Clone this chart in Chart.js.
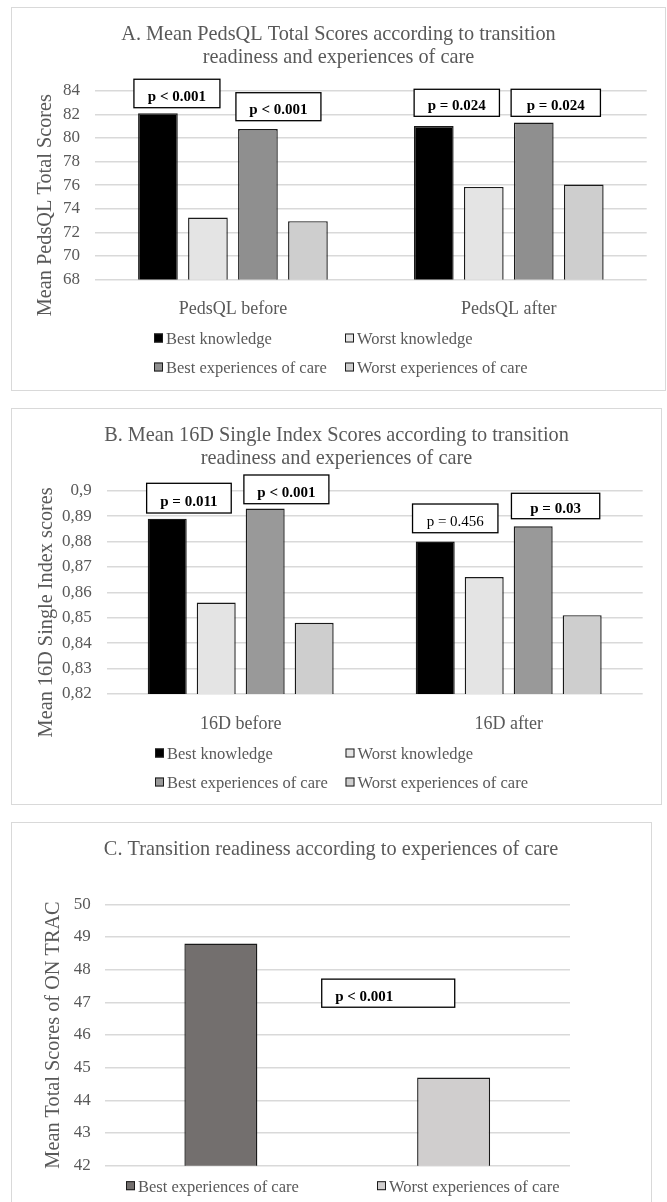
<!DOCTYPE html>
<html>
<head>
<meta charset="utf-8">
<script src="https://cdn.jsdelivr.net/npm/chart.js@4.4.1/dist/chart.umd.min.js"></script>
<style>
  html, body { margin: 0; padding: 0; background: #ffffff; width: 667px; height: 1202px; overflow: hidden; }
  .frame { position: absolute; box-sizing: border-box; border: 1.3px solid #d9d9d9; }
  canvas { position: absolute; }
</style>
</head>
<body>
<div class="frame" style="left:11px;top:7px;width:655px;height:384px"></div>
<canvas id="chartA" style="left:11px;top:7px" width="655" height="384"></canvas>

<div class="frame" style="left:11px;top:408px;width:651px;height:397px"></div>
<canvas id="chartB" style="left:11px;top:408px" width="651" height="397"></canvas>

<div class="frame" style="left:11px;top:822px;width:641px;height:400px"></div>
<canvas id="chartC" style="left:11px;top:822px" width="641" height="390"></canvas>

<script>
// ---- Panel A: PedsQL total scores ----
const groupLabels = ['Best knowledge', 'Worst knowledge', 'Best experiences of care', 'Worst experiences of care'];
const pedsCategories = ['PedsQL before', 'PedsQL after'];
const pedsBestKnowledge = [82.1, 81.0];
const pedsWorstKnowledge = [73.25, 75.85];
const pedsBestCare = [80.75, 81.3];
const pedsWorstCare = [72.95, 76.05];
const pedsTicks = [68, 70, 72, 74, 76, 78, 80, 82, 84];
const pedsPValues = ['p < 0.001', 'p < 0.001', 'p = 0.024', 'p = 0.024'];

// ---- Panel B: 16D single index scores ----
const sixteenCategories = ['16D before', '16D after'];
const sixteenBestKnowledge = [0.889, 0.880];
const sixteenWorstKnowledge = [0.856, 0.866];
const sixteenBestCare = [0.893, 0.886];
const sixteenWorstCare = [0.848, 0.851];
const sixteenTicks = [0.82, 0.83, 0.84, 0.85, 0.86, 0.87, 0.88, 0.89, 0.90];
const sixteenPValues = ['p = 0.011', 'p < 0.001', 'p = 0.456', 'p = 0.03'];

// ---- Panel C: ON TRAC total scores ----
const tracCategories = ['Best experiences of care', 'Worst experiences of care'];
const tracScores = [48.8, 44.7];
const tracTicks = [42, 43, 44, 45, 46, 47, 48, 49, 50];
const tracPValues = ['p < 0.001'];

const SERIF = "'Liberation Serif', 'Times New Roman', serif";
const INK = '#595959';
const GRID = '#d9d9d9';
Chart.defaults.font.family = SERIF;
Chart.defaults.color = INK;

const seriesFill = ['#000000', '#e4e4e4', '#8f8f8f', '#cecece'];
const seriesFillB = ['#000000', '#e4e4e4', '#999999', '#cecece'];
const tracFill = ['#736f6e', '#d0cece'];

// Draws titles, the rotated axis title, the legend grid and the p-value boxes.
const panelDecor = {
  id: 'panelDecor',
  afterDatasetsDraw(chart, args, o) {
    const ctx = chart.ctx;
    const ys = chart.scales.y;
    (o.boxes || []).forEach((b, i) => {
      const bar = chart.getDatasetMeta(b.ds).data[b.cat];
      const cx = bar.x + b.dx;
      const top = ys.getPixelForValue(b.top);
      const bottom = ys.getPixelForValue(b.bottom);
      const left = cx - b.w / 2;
      ctx.save();
      ctx.fillStyle = '#ffffff';
      ctx.fillRect(left, top, b.w, bottom - top);
      ctx.strokeStyle = '#000000';
      ctx.lineWidth = 1.3;
      ctx.strokeRect(left, top, b.w, bottom - top);
      ctx.font = (b.bold ? 'bold ' : '') + '15px ' + SERIF;
      ctx.fillStyle = '#000000';
      ctx.textBaseline = 'alphabetic';
      const ty = (top + bottom) / 2 + 7.5;
      if (b.inset != null) {
        ctx.textAlign = 'left';
        ctx.fillText(o.texts[i], left + b.inset, ty);
      } else {
        ctx.textAlign = 'center';
        ctx.fillText(o.texts[i], cx, ty);
      }
      ctx.restore();
    });
  },
  afterDraw(chart, args, o) {
    const ctx = chart.ctx;
    const area = chart.chartArea;
    ctx.save();
    // chart title
    ctx.fillStyle = INK;
    ctx.font = '20.3px ' + SERIF;
    ctx.textAlign = 'center';
    ctx.textBaseline = 'alphabetic';
    o.title.forEach((line, i) => ctx.fillText(line, o.titleX, o.titleY + i * 22.5));
    // y-axis title, centred on the plot plus its category labels
    const xs = chart.scales.x;
    const cy = (area.top + area.bottom + xs.height) / 2;
    ctx.save();
    ctx.font = '20.3px ' + SERIF;
    ctx.translate(o.axisTitleX, cy);
    ctx.rotate(-Math.PI / 2);
    ctx.textBaseline = 'middle';
    ctx.fillText(o.axisTitle, 0, 0);
    ctx.restore();
    // legend
    const items = o.legendItems(chart);
    ctx.font = '16.5px ' + SERIF;
    ctx.textAlign = 'left';
    ctx.textBaseline = 'alphabetic';
    const s = 9;
    items.forEach((it, k) => {
      const x = o.legend.cols[k % o.legend.cols.length];
      const y = o.legend.rows[Math.floor(k / o.legend.cols.length)];
      ctx.fillStyle = it.color;
      ctx.fillRect(x, y - s / 2, s, s);
      ctx.strokeStyle = '#1a1a1a';
      ctx.lineWidth = 1;
      ctx.strokeRect(x + 0.5, y - s / 2 + 0.5, s - 1, s - 1);
      ctx.fillStyle = INK;
      ctx.fillText(it.text, x + s + 3, y + 6);
    });
    ctx.restore();
  }
};

function yScale(ticks, width, pad, fmt) {
  return {
    min: ticks[0],
    max: ticks[ticks.length - 1],
    afterBuildTicks: s => { s.ticks = ticks.map(v => ({ value: v })); },
    afterFit: s => { s.width = width; },
    grid: { color: GRID, lineWidth: 1.5, drawTicks: false },
    border: { display: false },
    ticks: { font: { size: 17 }, color: INK, padding: pad, callback: fmt || (v => String(v)) }
  };
}

function xScale(show) {
  return {
    afterFit: s => { s.height = show ? 40 : 0; },
    grid: { display: false },
    border: { display: false },
    ticks: { display: show, font: { size: 18 }, color: INK, padding: 11 }
  };
}

function groupedDatasets(series, fills, catPct, barPct) {
  return series.map((vals, i) => ({
    label: groupLabels[i],
    data: vals,
    backgroundColor: fills[i],
    borderColor: '#1a1a1a',
    borderWidth: 1.4,
    categoryPercentage: catPct,
    barPercentage: barPct
  }));
}

const baseOptions = {
  responsive: false,
  animation: false,
  devicePixelRatio: 1,
  events: [],
  plugins: { legend: { display: false }, tooltip: { enabled: false }, title: { display: false } }
};

const groupLegend = chart => chart.data.datasets.map(d => ({ text: d.label, color: d.backgroundColor }));

// Panel A
new Chart(document.getElementById('chartA'), {
  type: 'bar',
  data: {
    labels: pedsCategories,
    datasets: groupedDatasets([pedsBestKnowledge, pedsWorstKnowledge, pedsBestCare, pedsWorstCare], seriesFill, 0.725, 0.794)
  },
  options: Object.assign({}, baseOptions, {
    layout: { padding: { top: 83.7, right: 19.3, bottom: 71.4, left: 0 } },
    scales: { x: xScale(true), y: yScale(pedsTicks, 84, 15) },
    plugins: Object.assign({}, baseOptions.plugins, {
      panelDecor: {
        title: ['A. Mean PedsQL Total Scores according to transition', 'readiness and experiences of care'],
        titleX: 327.5, titleY: 33,
        axisTitle: 'Mean PedsQL Total Scores', axisTitleX: 35,
        legend: { cols: [143, 334], rows: [331, 360] },
        legendItems: groupLegend,
        texts: pedsPValues,
        boxes: [
          { ds: 0, cat: 0, dx: 19, w: 86, top: 84.97, bottom: 82.56, bold: true },
          { ds: 2, cat: 0, dx: 20.5, w: 85, top: 83.83, bottom: 81.46, bold: true },
          { ds: 0, cat: 1, dx: 23, w: 85.3, top: 84.12, bottom: 81.83, bold: true },
          { ds: 2, cat: 1, dx: 22, w: 89.3, top: 84.12, bottom: 81.83, bold: true }
        ]
      }
    })
  }),
  plugins: [panelDecor]
});

// Panel B
const commaDecimal = v => String(parseFloat(Number(v).toFixed(2))).replace('.', ',');
new Chart(document.getElementById('chartB'), {
  type: 'bar',
  data: {
    labels: sixteenCategories,
    datasets: groupedDatasets([sixteenBestKnowledge, sixteenWorstKnowledge, sixteenBestCare, sixteenWorstCare], seriesFillB, 0.731, 0.796)
  },
  options: Object.assign({}, baseOptions, {
    layout: { padding: { top: 82.7, right: 19.3, bottom: 71, left: 0 } },
    scales: { x: xScale(true), y: yScale(sixteenTicks, 95.7, 15, commaDecimal) },
    plugins: Object.assign({}, baseOptions.plugins, {
      panelDecor: {
        title: ['B. Mean 16D Single Index Scores according to transition', 'readiness and experiences of care'],
        titleX: 325.5, titleY: 33,
        axisTitle: 'Mean 16D Single Index scores', axisTitleX: 35.5,
        legend: { cols: [144, 334.5], rows: [345, 374] },
        legendItems: groupLegend,
        texts: sixteenPValues,
        boxes: [
          { ds: 0, cat: 0, dx: 21.7, w: 84.6, top: 0.90291, bottom: 0.89122, bold: true },
          { ds: 2, cat: 0, dx: 21.2, w: 85, top: 0.90618, bottom: 0.89488, bold: true },
          { ds: 0, cat: 1, dx: 20, w: 85.4, top: 0.89476, bottom: 0.88346, bold: false },
          { ds: 2, cat: 1, dx: 22.4, w: 88.3, top: 0.89898, bottom: 0.88898, bold: true }
        ]
      }
    })
  }),
  plugins: [panelDecor]
});

// Panel C
new Chart(document.getElementById('chartC'), {
  type: 'bar',
  data: {
    labels: tracCategories,
    datasets: [{
      label: 'ON TRAC',
      data: tracScores,
      backgroundColor: tracFill,
      borderColor: '#1a1a1a',
      borderWidth: 1.4,
      categoryPercentage: 0.8,
      barPercentage: 0.392
    }]
  },
  options: Object.assign({}, baseOptions, {
    layout: { padding: { top: 82.3, right: 82, bottom: 46.3, left: 0 } },
    scales: { x: xScale(false), y: yScale(tracTicks, 93.5, 13.8) },
    plugins: Object.assign({}, baseOptions.plugins, {
      panelDecor: {
        title: ['C. Transition readiness according to experiences of care'],
        titleX: 320, titleY: 33,
        axisTitle: 'Mean Total Scores of ON TRAC', axisTitleX: 43,
        legend: { cols: [115, 366], rows: [363.7] },
        legendItems: chart => chart.data.labels.map((l, i) => ({ text: l, color: chart.data.datasets[0].backgroundColor[i] })),
        texts: tracPValues,
        boxes: [
          { ds: 0, cat: 1, dx: -65.4, w: 133, top: 47.71, bottom: 46.85, bold: true, inset: 13.4 }
        ]
      }
    })
  }),
  plugins: [panelDecor]
});
</script>
</body>
</html>
